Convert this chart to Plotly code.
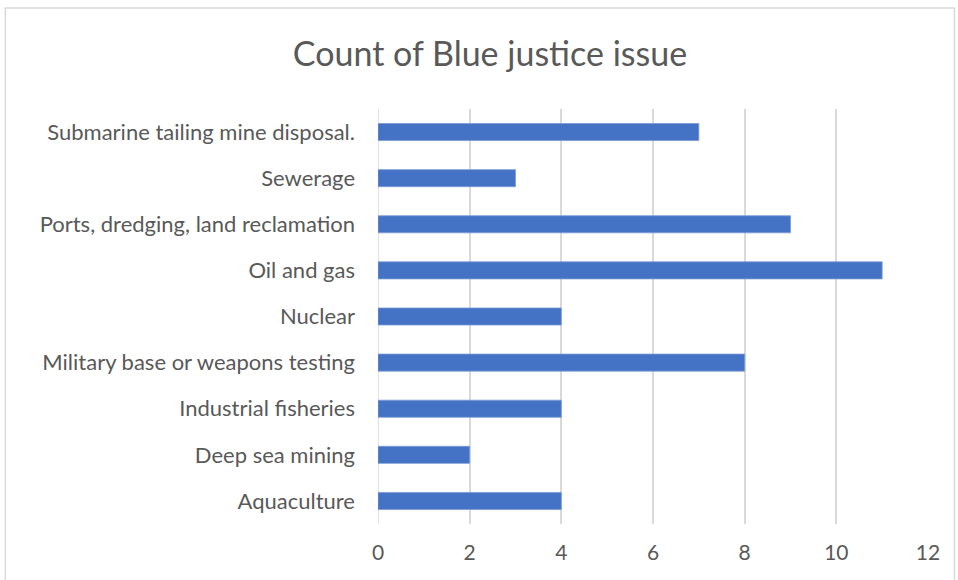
import plotly.graph_objects as go

categories = ["Aquaculture", "Deep sea mining", "Industrial fisheries",
              "Military base or weapons testing", "Nuclear", "Oil and gas",
              "Ports, dredging, land reclamation", "Sewerage",
              "Submarine tailing mine disposal."]
counts = [4, 2, 4, 8, 4, 11, 9, 3, 7]
x_ticks = [0, 2, 4, 6, 8, 10, 12]

fig = go.Figure(go.Bar(
    y=categories, x=counts, orientation="h",
    marker=dict(color="#4472C4", line=dict(color="#7a9bd6", width=0.8)),
    width=0.37,
))

L, R, T, B = 378, 958 - 928.5, 109, 580 - 524
pw, ph = 958 - L - R, 580 - T - B

fig.update_layout(
    width=958, height=580,
    margin=dict(l=L, r=R, t=T, b=B),
    paper_bgcolor="white", plot_bgcolor="white",
    font=dict(family="Lato", color="#595959"),
    title=dict(text="Count of Blue justice issue", x=(490) / 958, xanchor="center",
               y=1 - 54 / 580, yanchor="middle", yref="container",
               font=dict(size=34, color="#595959")),
    showlegend=False,
    xaxis=dict(range=[0, 12], tickvals=x_ticks, showgrid=True, gridcolor="#d9d9d9",
               gridwidth=1.5, zeroline=False, showline=False,
               tickfont=dict(size=21, color="#595959"), ticks="", ticklabelstandoff=14),
    yaxis=dict(categoryorder="array", categoryarray=categories, range=[-0.5, 8.5],
               showgrid=False, zeroline=False, showline=False,
               tickfont=dict(size=22, color="#595959"), ticks="", ticklabelstandoff=22),
    shapes=[
        dict(type="line", xref="x", yref="paper", x0=0, x1=0, y0=0, y1=1,
             line=dict(color="#d9d9d9", width=1.5), layer="below"),
        dict(type="rect", xref="paper", yref="paper",
             x0=(5 - L) / pw, x1=(955 - L) / pw,
             y0=-0.3, y1=(580 - B - 8) / ph,
             line=dict(color="#d9d9d9", width=1.5), layer="below"),
    ],
)

fig.write_html("out.html")
